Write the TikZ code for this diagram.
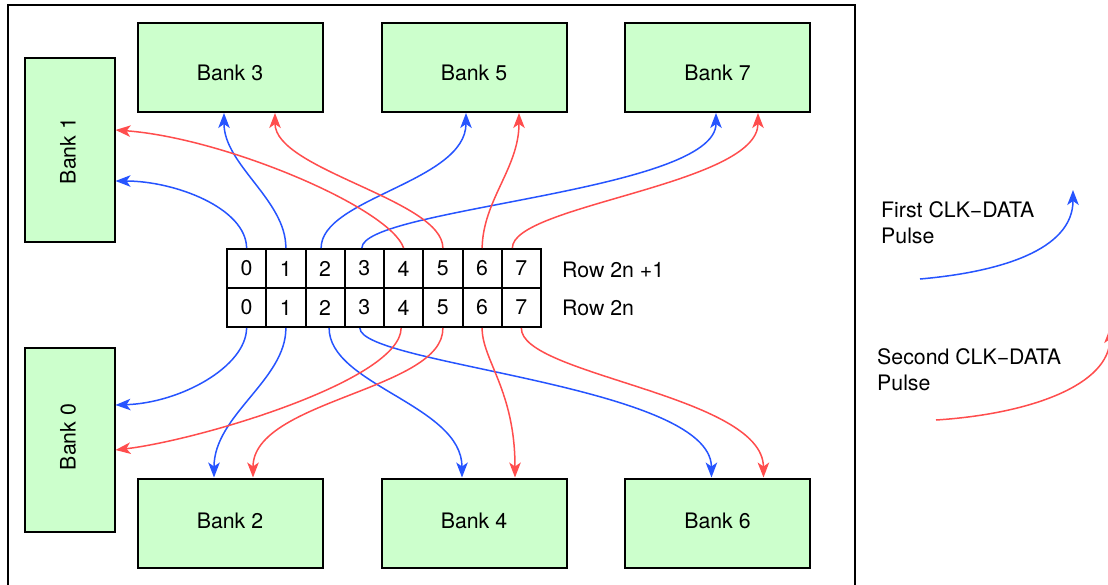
\documentclass[tikz,border=0pt]{standalone}
\usepackage{fontspec}
\setmainfont{TeX Gyre Heros}
\usetikzlibrary{arrows.meta}
\definecolor{bankfill}{RGB}{204,255,204}
\definecolor{bl}{RGB}{38,84,255}
\definecolor{rd}{RGB}{255,77,77}
\begin{document}
\begin{tikzpicture}[x=1pt,y=-1pt,
  font=\fontsize{21.3}{26}\selectfont,
  bank/.style={draw=black, line width=2pt, fill=bankfill, minimum width=185pt, minimum height=89pt, inner sep=0pt},
  vbank/.style={draw=black, line width=2pt, fill=bankfill, minimum width=90pt, minimum height=184pt, inner sep=0pt},
  banklabel/.style={inner sep=0pt},
  cell/.style={draw=black, line width=2pt, minimum width=39.25pt, minimum height=39pt, inner sep=0pt},
  wire/.style={line width=1.5pt, -{Stealth[length=15pt,width=11.5pt,inset=4pt]}},
  bwire/.style={wire, draw=bl},
  rwire/.style={wire, draw=rd},
  legtext/.style={anchor=west, align=left, inner sep=0pt}
]
\useasboundingbox (0,0) rectangle (1108,584);
\fill[white] (0,0) rectangle (1108,584);
\draw[line width=1.5pt] (8,5) rectangle (855,640);

% banks
\node[vbank] (bank1) at (69.5,149.5) {};
\node[banklabel, rotate=90] (bank1t) at (68,151) {Bank 1};
\node[vbank] (bank0) at (69.5,439.5) {};
\node[banklabel, rotate=90] (bank0t) at (68,437) {Bank 0};
\node[bank] (bank3) at (230,67.5) {};
\node[banklabel] (bank3t) at (230,72.5) {Bank 3};
\node[bank] (bank5) at (474,67.5) {};
\node[banklabel] (bank5t) at (474,72.5) {Bank 5};
\node[bank] (bank7) at (717.5,67.5) {};
\node[banklabel] (bank7t) at (717.5,72.5) {Bank 7};
\node[bank] (bank2) at (230,523) {};
\node[banklabel] (bank2t) at (230,521) {Bank 2};
\node[bank] (bank4) at (474,523) {};
\node[banklabel] (bank4t) at (474,521) {Bank 4};
\node[bank] (bank6) at (717.5,523) {};
\node[banklabel] (bank6t) at (717.5,521) {Bank 6};

% table
\foreach \i in {0,...,7} {
  \node[cell] (t\i) at ({227+39.25*(\i+0.5)},268.5) {\i};
  \node[cell] (b\i) at ({227+39.25*(\i+0.5)},307.5) {\i};
}
\node[anchor=west, inner sep=0pt] (row1) at (562,270) {Row 2n +1};
\node[anchor=west, inner sep=0pt] (row0) at (562,308) {Row 2n};

% first pulse (top row)
\draw[bwire] (t0.north) .. controls (246,208) and (175,181) .. ([yshift=-31.5pt]bank1.east);
\draw[bwire] (t1.north) .. controls (286,200) and (224,165) .. ([xshift=-6pt]bank3.south);
\draw[bwire] ([xshift=-4pt]t2.north) .. controls (321,198) and (466,182) .. ([xshift=-8pt]bank5.south);
\draw[bwire] ([xshift=-2.5pt]t3.north) .. controls (362,208) and (716,192) .. ([xshift=-1.5pt]bank7.south);
% second pulse (top row)
\draw[rwire] (t4.north) .. controls (390,208) and (225,138) .. ([yshift=19.5pt]bank1.east);
\draw[rwire] (t5.north) .. controls (443,200) and (275,170) .. ([xshift=45pt]bank3.south);
\draw[rwire] (t6.north) .. controls (483,200) and (519,168) .. ([xshift=45pt]bank5.south);
\draw[rwire] ([xshift=-9pt]t7.north) .. controls (512,205) and (758,185) .. ([xshift=40.5pt]bank7.south);

% first pulse (bottom row)
\draw[bwire] (b0.south) .. controls (246,367) and (180,403) .. ([yshift=34.5pt]bank0.east);
\draw[bwire] (b1.south) .. controls (286,380) and (214,415) .. ([xshift=-16pt]bank2.north);
\draw[bwire] ([xshift=4pt]b2.south) .. controls (329,385) and (462,405) .. ([xshift=-12pt]bank4.north);
\draw[bwire] ([xshift=-4.5pt]b3.south) .. controls (360,365) and (711,385) .. ([xshift=-6pt]bank6.north);
% second pulse (bottom row)
\draw[rwire] ([xshift=-2.5pt]b4.south) .. controls (401,380) and (200,440) .. ([yshift=-10.5pt]bank0.east);
\draw[rwire] (b5.south) .. controls (444,390) and (253,400) .. ([xshift=23pt]bank2.north);
\draw[rwire] (b6.south) .. controls (482,360) and (515,390) .. ([xshift=41pt]bank4.north);
\draw[rwire] (b7.south) .. controls (520,375) and (763,395) .. ([xshift=46pt]bank6.north);

% legend
\node[legtext] (leg1) at (881,223) {First CLK−DATA\\Pulse};
\node[legtext] (leg2) at (877,370) {Second CLK−DATA\\Pulse};
\coordinate (l1a) at (920,279);
\coordinate (l1b) at (1073,190);
\coordinate (l2a) at (936,420);
\coordinate (l2b) at (1110,328);
\draw[bwire] (l1a) .. controls (1000,272) and (1073,250) .. (l1b);
\draw[rwire] (l2a) .. controls (1030,414) and (1110,385) .. (l2b);
\end{tikzpicture}
\end{document}
